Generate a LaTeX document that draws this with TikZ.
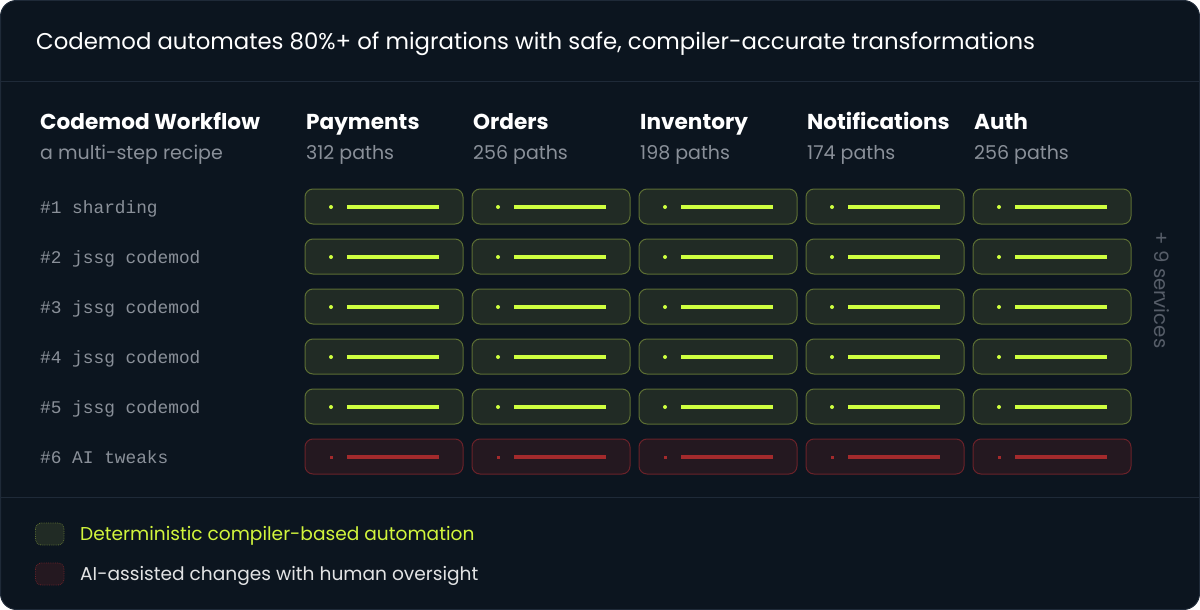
\documentclass[tikz,border=0pt]{standalone}
\usepackage{fontspec}
\setmainfont{Poppins}
\newfontfamily\monof{Liberation Mono}
\definecolor{bg}{HTML}{0C151F}
\definecolor{edge}{HTML}{1F2A38}
\definecolor{txtgray}{HTML}{8A9099}
\definecolor{svcgray}{HTML}{565D68}
\definecolor{gfill}{HTML}{212B25}
\definecolor{gline}{HTML}{5C6E33}
\definecolor{gbar}{HTML}{CFFF3F}
\definecolor{rfill}{HTML}{241820}
\definecolor{rline}{HTML}{6A2229}
\definecolor{rbar}{HTML}{A32A2C}
\definecolor{lime}{HTML}{D2F53C}
\begin{document}
\begin{tikzpicture}[x=1pt,y=-1pt,
  lbl/.style={anchor=base west,inner sep=0pt,text=white},
  sub/.style={anchor=base west,inner sep=0pt,text=txtgray,font=\fontsize{19}{22}\selectfont},
  hdr/.style={anchor=base west,inner sep=0pt,text=white,font=\fontsize{21.6}{24}\selectfont\bfseries},
  steplbl/.style={anchor=base west,inner sep=0pt,text=txtgray,font=\monof\fontsize{17.8}{20}\selectfont},
  gcell/.style={draw=gline,fill=gfill,rounded corners=8pt,line width=1pt},
  rcell/.style={draw=rline,fill=rfill,rounded corners=8pt,line width=1pt},
]
\useasboundingbox (0,0) rectangle (1200,610);
\fill[white] (0,0) rectangle (1200,610);
\draw[fill=bg,draw=edge,line width=1pt,rounded corners=16pt] (0.5,0.5) rectangle (1199.5,609.5);
\draw[edge,line width=1pt] (0,82) -- (1200,82);
\draw[edge,line width=1pt] (0,497) -- (1200,497);
\node[lbl,font=\fontsize{22.8}{26}\selectfont] (title) at (36,50) {Codemod automates 80\%+ of migrations with safe, compiler-accurate transformations};
\node[hdr] (wf) at (40,129) {Codemod Workflow};
\node[sub] (wfs) at (40,159) {a multi-step recipe};
\foreach \x/\n/\p [count=\i] in {306/Payments/312,473/Orders/256,640/Inventory/198,807/Notifications/174,974/Auth/256}{
  \node[hdr] (h\i) at (\x,129) {\n};
  \node[sub] (s\i) at (\x,159) {\p\ paths};
}
\foreach \t [count=\r] in {sharding,jssg codemod,jssg codemod,jssg codemod,jssg codemod,AI tweaks}{
  \node[steplbl] (st\r) at (40,{213+50*(\r-1)}) {\#\r\ \t};
}
\foreach \r in {1,...,5}{
  \foreach \c in {1,...,5}{
    \pgfmathsetmacro{\xx}{305+167*(\c-1)}
    \pgfmathsetmacro{\yy}{189+50*(\r-1)}
    \draw[gcell] (\xx,\yy) rectangle ++(158,35);
    \fill[gbar] (\xx+26,\yy+18) circle (2);
    \draw[gbar,line width=4pt] (\xx+42,\yy+18) -- (\xx+134,\yy+18);
  }
}
\foreach \c in {1,...,5}{
  \pgfmathsetmacro{\xx}{305+167*(\c-1)}
  \draw[rcell] (\xx,439) rectangle ++(158,35);
  \fill[rbar] (\xx+24.5,455.5) rectangle ++(3.5,3.5);
  \draw[rbar,line width=3.5pt] (\xx+42,457) -- (\xx+134,457);
}
\node[rotate=-90,text=svcgray,font=\fontsize{19.7}{22}\selectfont,inner sep=0pt] (svc) at (1162,290) {+ 9 services};
\draw[gline,fill=gfill,rounded corners=6pt,densely dotted,line width=0.8pt] (35.5,523) rectangle (64,545);
\node[anchor=base west,inner sep=0pt,text=lime,font=\fontsize{18.6}{20}\selectfont] (l1) at (80,540) {Deterministic compiler-based automation};
\draw[rline,fill=rfill,rounded corners=6pt,densely dotted,line width=0.8pt] (35.5,563) rectangle (64,585);
\node[anchor=base west,inner sep=0pt,text=white!88!bg,font=\fontsize{18.6}{20}\selectfont] (l2) at (80,580) {AI-assisted changes with human oversight};
\end{tikzpicture}
\end{document}
